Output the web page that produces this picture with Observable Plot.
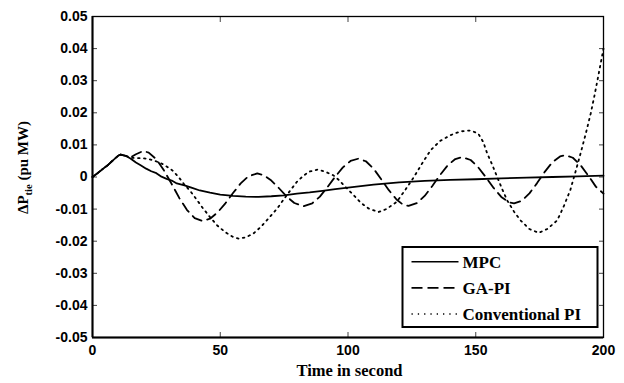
<!DOCTYPE html>
<html>
<head>
<meta charset="utf-8">
<script src="https://cdn.jsdelivr.net/npm/d3@7"></script>
<script src="https://cdn.jsdelivr.net/npm/@observablehq/plot@0.6"></script>
<style>
  html, body { margin: 0; padding: 0; background: #fff; }
  #chart { width: 624px; height: 383px; }
  svg text.serif, svg text.serif tspan { font-family: "Liberation Serif", "Tinos", "Times New Roman", "DejaVu Serif", "Noto Serif", serif !important; font-weight: bold; }
</style>
</head>
<body>
<div id="chart"></div>
<script>
// ---- data ----
const xTicks = [0, 50, 100, 150, 200];
const yTicks = [-0.05, -0.04, -0.03, -0.02, -0.01, 0, 0.01, 0.02, 0.03, 0.04, 0.05];

const mpcT = [0, 2, 4, 6, 8, 10, 11, 13, 15, 17, 19, 21, 23, 25, 27, 29, 31, 33, 36, 39, 42, 46, 50, 55, 60, 65, 70, 75, 80, 85, 90, 95, 100, 110, 120, 130, 140, 150, 160, 170, 180, 190, 200];
const mpcV = [0, 0.0012, 0.0025, 0.0037, 0.0052, 0.0066, 0.007, 0.0066, 0.0057, 0.0045, 0.0036, 0.0026, 0.0018, 0.0012, 0.0001, -0.0006, -0.0011, -0.002, -0.0026, -0.0034, -0.0042, -0.0049, -0.0055, -0.0059, -0.0061, -0.0062, -0.006, -0.0057, -0.0052, -0.0048, -0.0043, -0.0038, -0.0033, -0.0024, -0.0017, -0.0012, -0.0009, -0.0007, -0.0004, -0.0002, 0.0, 0.0002, 0.0004];

const gaT = [0, 2, 4, 6, 8, 10, 11, 13, 15, 17, 19.8, 22, 25, 28, 31, 34, 37, 40, 43, 46, 49, 52, 55, 58, 61, 64.5, 67, 70, 73, 76, 79, 82.6, 86, 89, 92, 95, 98, 101, 104, 107, 110, 113, 116, 119, 121.5, 123.7, 127, 130, 133, 136, 139, 142, 144.7, 148, 151, 154, 157, 160, 163, 165, 168, 171, 174, 177, 180, 183, 185, 188, 191, 194, 197, 200];
const gaV = [0, 0.0012, 0.0025, 0.0037, 0.0052, 0.0066, 0.007, 0.0066, 0.0062, 0.0071, 0.0081, 0.0076, 0.0055, 0.002, -0.0022, -0.0066, -0.0103, -0.0128, -0.0137, -0.013, -0.011, -0.0082, -0.005, -0.002, 0.0002, 0.0011, 0.0006, -0.0011, -0.0035, -0.0061, -0.0081, -0.0091, -0.0082, -0.0061, -0.0031, 0.0001, 0.003, 0.005, 0.0057, 0.0049, 0.0026, -0.0007, -0.0041, -0.007, -0.0086, -0.009, -0.0081, -0.0059, -0.0028, 0.0006, 0.0036, 0.0056, 0.0062, 0.0053, 0.003, -0.0001, -0.0034, -0.0062, -0.0079, -0.0082, -0.0074, -0.0051, -0.0019, 0.0016, 0.0046, 0.0064, 0.0068, 0.006, 0.0037, 0.0005, -0.003, -0.0052];

const piT = [0, 2, 4, 6, 8, 10, 11, 13, 15, 17.5, 20, 22, 24.5, 27, 29, 31.2, 33.5, 35.7, 38.5, 41, 43, 46, 48.8, 52, 55, 57.3, 60, 63, 65.8, 69, 72.3, 75, 77.5, 80, 82.7, 85, 88, 91, 94.3, 96.5, 98.4, 102, 105, 108, 112, 115, 119, 122, 125.8, 129, 132.3, 136, 140, 144, 148, 151, 153, 154.5, 156.5, 158.4, 160.3, 162.3, 165, 167.5, 171, 174.7, 178, 181.9, 184.5, 187, 189, 191, 193, 195, 196.5, 197.6, 198.8, 200];
const piV = [0, 0.0012, 0.0025, 0.0037, 0.0052, 0.0066, 0.007, 0.0066, 0.006, 0.0059, 0.0058, 0.0056, 0.005, 0.0042, 0.0033, 0.0021, 0.0002, -0.0021, -0.0046, -0.0073, -0.0095, -0.0125, -0.0151, -0.0172, -0.0187, -0.0192, -0.0188, -0.0176, -0.0156, -0.0128, -0.0098, -0.0068, -0.0041, -0.0015, 0.0005, 0.0017, 0.0023, 0.0017, 0.0005, -0.001, -0.0026, -0.0055, -0.008, -0.0098, -0.0109, -0.01, -0.0078, -0.0045, 0.0, 0.0042, 0.0083, 0.0112, 0.013, 0.0142, 0.0145, 0.0135, 0.0108, 0.0073, 0.0037, 0.0, -0.0037, -0.0073, -0.0108, -0.0135, -0.0162, -0.0174, -0.0162, -0.0135, -0.009, -0.0041, 0.0015, 0.0073, 0.0133, 0.0198, 0.0255, 0.03, 0.035, 0.04];

const seriesNames = ["MPC", "GA-PI", "Conventional PI"];
const seriesDash = [null, "10,6", "1.6,4.4"];

const mpc = mpcT.map((t, i) => ({t, v: mpcV[i]}));
const ga = gaT.map((t, i) => ({t, v: gaV[i]}));
const pi = piT.map((t, i) => ({t, v: piV[i]}));

const fmtY = d => (d === 0 ? "0" : d.toFixed(2));
const none = () => "";

const chart = Plot.plot({
  width: 624,
  height: 383,
  marginLeft: 92,
  marginRight: 21,
  marginTop: 16,
  marginBottom: 46,
  style: {
    fontFamily: "'Liberation Sans', Arial, sans-serif",
    fontSize: "14px",
    fontWeight: "bold",
    color: "black",
    background: "white"
  },
  x: {domain: [0, 200], label: null},
  y: {domain: [-0.05, 0.05], label: null},
  marks: [
    // inward ticks on all four sides
    Plot.axisY(yTicks, {anchor: "left", tickSize: 5, dx: 5, tickFormat: none, label: null, stroke: "#444"}),
    Plot.axisY(yTicks, {anchor: "right", tickSize: 5, dx: -5, tickFormat: none, label: null, stroke: "#444"}),
    Plot.axisX(xTicks, {anchor: "bottom", tickSize: 5, dy: -5, tickFormat: none, label: null, stroke: "#444"}),
    Plot.axisX(xTicks, {anchor: "top", tickSize: 5, dy: 5, tickFormat: none, label: null, stroke: "#444"}),
    // tick labels
    Plot.axisY(yTicks, {anchor: "left", tickSize: 0, tickPadding: 5, tickFormat: fmtY, label: null}),
    Plot.axisX(xTicks, {anchor: "bottom", tickSize: 0, tickPadding: 8, tickFormat: d => String(d), label: null}),
    // data lines
    Plot.line(pi, {x: "t", y: "v", stroke: "black", strokeWidth: 1.8, strokeDasharray: seriesDash[2]}),
    Plot.line(ga, {x: "t", y: "v", stroke: "black", strokeWidth: 1.8, strokeDasharray: seriesDash[1]}),
    Plot.line(mpc, {x: "t", y: "v", stroke: "black", strokeWidth: 1.8}),
    // box
    Plot.frame({stroke: "black", strokeWidth: 1.3}),
    Plot.ruleX([0], {stroke: "black", strokeWidth: 2}),
    Plot.ruleY([-0.05], {stroke: "black", strokeWidth: 2})
  ]
});

document.getElementById("chart").appendChild(chart);

// ---- axis titles and legend ----
const svg = d3.select(chart);

svg.append("text")
  .attr("class", "serif")
  .attr("x", 349.5).attr("y", 376)
  .attr("text-anchor", "middle")
  .attr("font-size", 16.5)
  .text("Time in second");

const yl = svg.append("text")
  .attr("class", "serif")
  .attr("transform", "translate(28,167.5) rotate(-90)")
  .attr("text-anchor", "middle")
  .attr("font-size", 15);
yl.append("tspan").text("ΔP");
yl.append("tspan").attr("dy", 4).attr("font-size", 10.5).text("tie");
yl.append("tspan").attr("dy", -4).text(" (pu MW)");

const lg = svg.append("g").attr("text-anchor", "start");
lg.append("rect")
  .attr("x", 402.5).attr("y", 247).attr("width", 195).attr("height", 80)
  .attr("fill", "white").attr("stroke", "black").attr("stroke-width", 2);
const rowY = [261.7, 287.9, 314];
seriesNames.forEach((name, i) => {
  const ln = lg.append("line")
    .attr("x1", 411.5).attr("x2", 458.5)
    .attr("y1", rowY[i]).attr("y2", rowY[i])
    .attr("stroke", "black").attr("stroke-width", i === 2 ? 1.3 : 1.6);
  if (seriesDash[i]) ln.attr("stroke-dasharray", i === 1 ? "11,5" : "1.3,5");
  lg.append("text")
    .attr("class", "serif")
    .attr("x", 462.5).attr("y", rowY[i] + 6)
    .attr("text-anchor", "start")
    .attr("font-size", 17)
    .text(name);
});
</script>
</body>
</html>
